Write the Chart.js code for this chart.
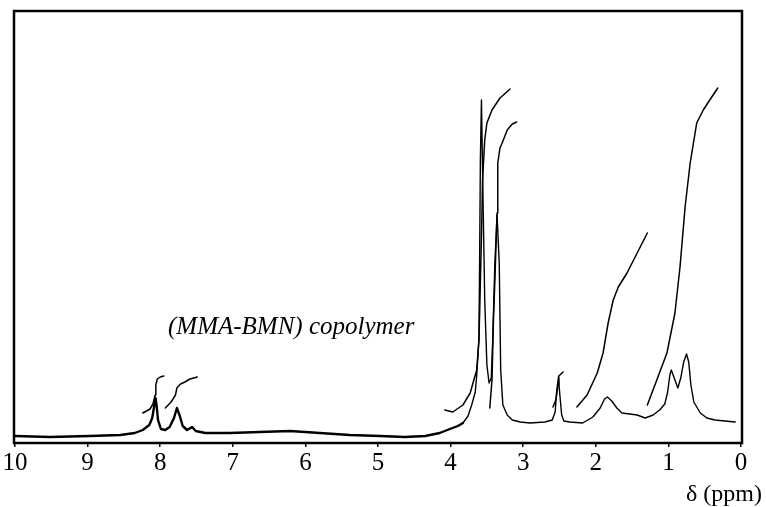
<!DOCTYPE html>
<html>
<head>
<meta charset="utf-8">
<script src="https://cdn.jsdelivr.net/npm/chart.js@4.4.1/dist/chart.umd.min.js"></script>
<style>
html,body{margin:0;padding:0;background:#fff;}
canvas{display:block;}
</style>
</head>
<body>
<canvas id="c" width="766" height="507"></canvas>
<script>
// ---- Data (chemical shift in ppm, intensity in arbitrary units) ----
const xTicks = [10, 9, 8, 7, 6, 5, 4, 3, 2, 1, 0];

// spectrum, aromatic / baseline part (drawn thicker)
const specLeftPpm = [10.0, 9.52, 8.97, 8.55, 8.35, 8.24, 8.15, 8.11, 8.08, 8.065, 8.05, 8.03, 7.99, 7.93, 7.87, 7.81, 7.77, 7.73, 7.69, 7.63, 7.56, 7.51, 7.38, 7.04, 6.63, 6.21, 5.80, 5.39, 4.97, 4.63, 4.35, 4.15, 4.01, 3.90, 3.83];
const specLeftInt = [7, 6, 7, 8, 10, 13, 18, 25, 38, 45, 38, 23, 14, 13, 16, 25, 35, 27, 17, 13, 16, 12, 10, 10, 11, 12, 10, 8, 7, 6, 7, 10, 14, 17, 20];

// spectrum, aliphatic part (drawn thinner)
const specRightPpm = [3.83, 3.76, 3.71, 3.66, 3.64, 3.61, 3.60, 3.59, 3.575, 3.56, 3.53, 3.50, 3.47, 3.44, 3.42, 3.39, 3.36, 3.33, 3.31, 3.28, 3.22, 3.15, 3.04, 2.91, 2.70, 2.60, 2.56, 2.54, 2.515, 2.495, 2.47, 2.44, 2.36, 2.18, 2.04, 1.94, 1.88, 1.84, 1.78, 1.71, 1.64, 1.53, 1.43, 1.32, 1.21, 1.12, 1.05, 1.01, 0.98, 0.96, 0.91, 0.87, 0.83, 0.79, 0.75, 0.72, 0.69, 0.65, 0.56, 0.47, 0.36, 0.22, 0.08];
const specRightInt = [20, 27, 38, 51, 68, 103, 183, 283, 343, 273, 143, 78, 60, 65, 103, 180, 228, 180, 73, 38, 28, 23, 21, 20, 21, 23, 31, 51, 66, 48, 28, 22, 21, 20, 26, 35, 44, 46, 42, 35, 30, 29, 28, 25, 28, 33, 39, 51, 68, 73, 63, 55, 65, 81, 89, 81, 58, 41, 30, 25, 23, 22, 21];

// integral curves
const int1Ppm = [8.24, 8.14, 8.10, 8.07, 8.06, 8.04, 8.00, 7.95];
const int1Val = [30, 34, 39, 48, 58, 64, 66, 67];
const int2Ppm = [7.93, 7.85, 7.79, 7.77, 7.72, 7.66, 7.59, 7.49];
const int2Val = [35, 41, 48, 55, 59, 61, 64, 66];
const int3Ppm = [4.08, 3.97, 3.83, 3.73, 3.68, 3.64, 3.61, 3.60, 3.57, 3.56, 3.53, 3.50, 3.43, 3.32, 3.18];
const int3Val = [33, 31, 38, 50, 63, 73, 103, 130, 223, 263, 303, 320, 333, 345, 354];
const int4Ppm = [3.46, 3.43, 3.41, 3.39, 3.36, 3.35, 3.32, 3.29, 3.22, 3.15, 3.09];
const int4Val = [35, 63, 123, 163, 230, 280, 295, 300, 313, 319, 321];
const int5Ppm = [2.59, 2.55, 2.52, 2.51, 2.48, 2.45];
const int5Val = [36, 43, 58, 67, 69, 71];
const int6Ppm = [2.26, 2.12, 1.98, 1.90, 1.83, 1.76, 1.69, 1.57, 1.43, 1.29];
const int6Val = [36, 48, 70, 90, 120, 143, 156, 170, 190, 210];
const int7Ppm = [1.29, 1.16, 1.02, 0.91, 0.84, 0.77, 0.70, 0.61, 0.52, 0.43, 0.32];
const int7Val = [38, 63, 90, 130, 176, 236, 280, 320, 333, 343, 355];

const titleText = '(MMA-BMN) copolymer';
const axisLabel = 'δ (ppm)';

// ---- Build chart ----
const pts = (xs, ys) => xs.map((x, i) => ({x: x, y: ys[i]}));
const line = (data, w) => ({
  data: data, showLine: true, borderColor: '#000', backgroundColor: '#000',
  borderWidth: w, pointRadius: 0, tension: 0, fill: false, borderJoinStyle: 'round', borderCapStyle: 'round'
});

const framePlugin = {
  id: 'frame',
  afterDraw(chart) {
    const ctx = chart.ctx, a = chart.chartArea;
    ctx.save();
    ctx.strokeStyle = '#000';
    ctx.lineWidth = 2.5;
    ctx.strokeRect(a.left - 1, a.top, a.right - a.left + 2, a.bottom - a.top);
    ctx.fillStyle = '#000';
    ctx.font = 'italic 25px "Liberation Serif"';
    ctx.textAlign = 'left';
    ctx.textBaseline = 'alphabetic';
    ctx.fillText(titleText, 168, 334);
    ctx.font = '24px "Liberation Serif"';
    ctx.textAlign = 'right';
    ctx.fillText(axisLabel, 762, 501);
    ctx.restore();
  }
};

new Chart(document.getElementById('c'), {
  type: 'scatter',
  data: {
    datasets: [
      line(pts(specLeftPpm, specLeftInt), 2.4),
      line(pts(specRightPpm, specRightInt), 1.4),
      line(pts(int1Ppm, int1Val), 1.5),
      line(pts(int2Ppm, int2Val), 1.5),
      line(pts(int3Ppm, int3Val), 1.5),
      line(pts(int4Ppm, int4Val), 1.5),
      line(pts(int5Ppm, int5Val), 1.5),
      line(pts(int6Ppm, int6Val), 1.5),
      line(pts(int7Ppm, int7Val), 1.5)
    ]
  },
  options: {
    responsive: false,
    animation: false,
    layout: { padding: { left: 15, right: 25, top: 11, bottom: 0 } },
    plugins: { legend: { display: false }, tooltip: { enabled: false } },
    scales: {
      x: {
        type: 'linear', min: 0, max: 10, reverse: true,
        afterBuildTicks(scale) { scale.ticks = xTicks.map(v => ({value: v})); },
        afterFit(scale) { scale.height = 64; },
        ticks: {
          color: '#000', padding: 1, maxRotation: 0, autoSkip: false,
          font: { family: '"Liberation Serif"', size: 25 },
          callback: v => String(v)
        },
        grid: { drawOnChartArea: false, drawTicks: true, tickLength: 4, color: '#000', lineWidth: 1.5 },
        border: { display: false }
      },
      y: { display: false, min: 0, max: 432 }
    }
  },
  plugins: [framePlugin]
});
</script>
</body>
</html>
